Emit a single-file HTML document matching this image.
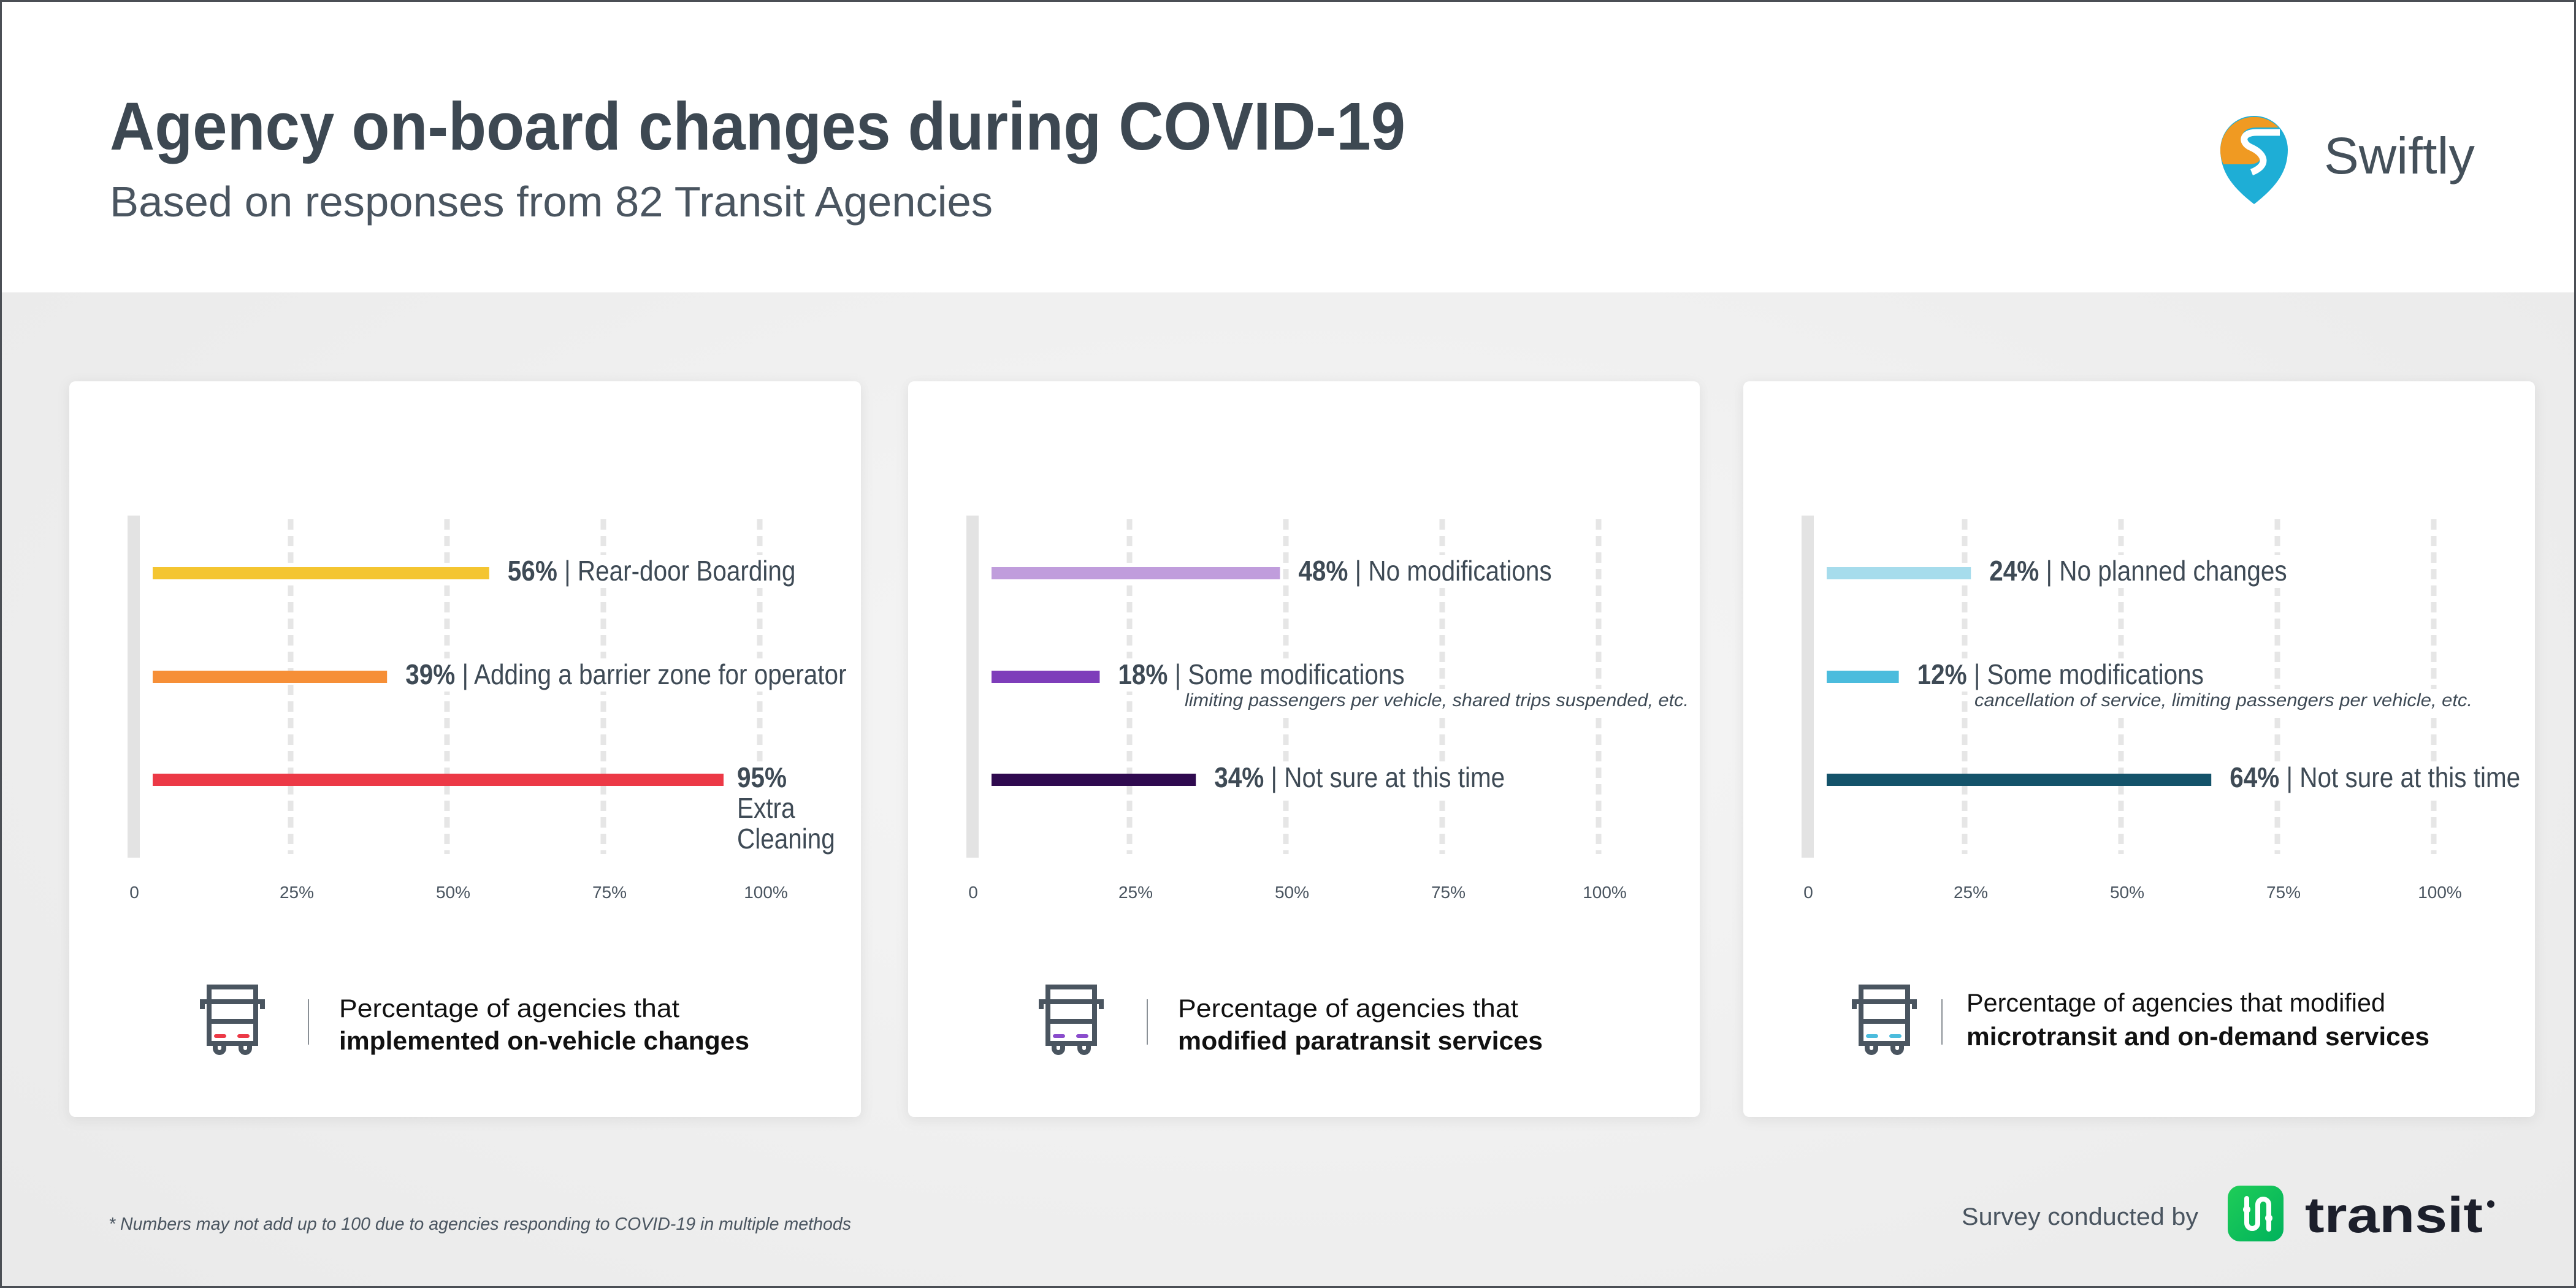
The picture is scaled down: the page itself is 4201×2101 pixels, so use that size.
<!DOCTYPE html>
<html><head><meta charset="utf-8">
<style>
html,body{margin:0;padding:0;background:#fff}
svg{display:block}
text{font-family:"Liberation Sans",sans-serif}
</style></head>
<body>
<svg id="root" width="4201" height="2101" viewBox="0 0 4201 2101" xmlns="http://www.w3.org/2000/svg">
<defs>
<radialGradient id="bgGrad" cx="50%" cy="55%" r="70%">
<stop offset="0" stop-color="#f6f6f6"/><stop offset="1" stop-color="#e9e9e9"/>
</radialGradient>
<filter id="shadow" x="-5%" y="-5%" width="110%" height="110%">
<feDropShadow dx="0" dy="4" stdDeviation="10" flood-color="#000" flood-opacity="0.08"/>
</filter>
<linearGradient id="tg" x1="0" y1="0" x2="1" y2="1"><stop offset="0" stop-color="#1fcd58"/><stop offset="1" stop-color="#00b25c"/></linearGradient>
</defs>
<rect x="0" y="0" width="4201" height="2101" fill="url(#bgGrad)"/>
<rect x="0" y="0" width="4201" height="477" fill="#ffffff"/>
<text x="179" y="244" font-size="110" font-weight="bold" fill="#3d4852" textLength="2113" lengthAdjust="spacingAndGlyphs">Agency on-board changes during COVID-19</text>
<text x="179" y="353" font-size="70" fill="#4a5560" textLength="1440" lengthAdjust="spacingAndGlyphs">Based on responses from 82 Transit Agencies</text>

<g>
<path d="M3676 333 C3640 305 3621 280 3621 244 A55 55 0 0 1 3731 244 C3731 280 3712 305 3676 333 Z" fill="#1eaed6"/>
<path d="M3621 244 A55 55 0 0 1 3716 208 L3680 208 C3650 208 3650 235 3668 243 C3690 252 3692 266 3670 268 L3626 268 C3622 260 3621 252 3621 244 Z" fill="#f09a22"/>
<path d="M3718 216 L3680 216 C3655 216 3655 233 3670 240 C3695 251 3700 270 3672 281" fill="none" stroke="#fff" stroke-width="11"/>
<text x="3790" y="283" font-size="84" fill="#44505a" textLength="246" lengthAdjust="spacingAndGlyphs">Swiftly</text>
</g>

<g id="panels"></g>

<text x="177" y="2006" font-size="29" font-style="italic" fill="#4a5560" textLength="1211" lengthAdjust="spacingAndGlyphs">*  Numbers may not add up to 100 due to agencies responding to COVID-19 in multiple methods</text>
<text x="3199" y="1998" font-size="40" fill="#4a5560" textLength="386" lengthAdjust="spacingAndGlyphs">Survey conducted by</text>
<g>
<rect x="3633" y="1934" width="91" height="91" rx="20" fill="url(#tg)"/>
<path d="M3664 1955 L3664 1995 A9 9 0 0 0 3682 1995 L3682 1965 A9 9 0 0 1 3700 1965 L3700 2005" fill="none" stroke="#fff" stroke-width="8" stroke-linecap="round"/>
<circle cx="3664" cy="1973" r="6" fill="#fff"/><circle cx="3700" cy="1987" r="6" fill="#fff"/>
<text x="3759" y="2010" font-size="82" font-weight="bold" fill="#1c1f2b" textLength="290" lengthAdjust="spacingAndGlyphs">transit</text>
<circle cx="4062" cy="1964" r="6" fill="#1c1f2b"/>
</g>
<rect x="1.5" y="1.5" width="4198" height="2098" fill="none" stroke="#4b4f55" stroke-width="3"/>
</svg>
<script>
const NS="http://www.w3.org/2000/svg";
// data
const p1Categories=["Rear-door Boarding","Adding a barrier zone for operator","Extra Cleaning"];
const p1Values=[56,39,95];
const p1Colors=["#f4c531","#f68f37","#ec3946"];
const p2Categories=["No modifications","Some modifications","Not sure at this time"];
const p2Values=[48,18,34];
const p2Colors=["#c09ddc","#7e3dba","#2f0a4f"];
const p3Categories=["No planned changes","Some modifications","Not sure at this time"];
const p3Values=[24,12,64];
const p3Colors=["#a6dcec","#4bbcdd","#14536a"];
const tickValues=[0,25,50,75,100];
const tickLabels=["0","25%","50%","75%","100%"];
const p2Note="limiting passengers per vehicle, shared trips suspended, etc.";
const p3Note="cancellation of service, limiting passengers per vehicle, etc.";

const panels=[
 {x:113,cats:p1Categories,vals:p1Values,cols:p1Colors,note:null,l1:"Percentage of agencies that",l2:"implemented on-vehicle changes",icon:215,div:390,tx:440,b1:1659,b2:1712,w1:555,w2:669,dash:"#ec3946",name:"on-vehicle-changes"},
 {x:1481,cats:p2Categories,vals:p2Values,cols:p2Colors,note:p2Note,noteX:451,noteW:822,l1:"Percentage of agencies that",l2:"modified paratransit services",icon:215,div:390,tx:440,b1:1659,b2:1712,w1:555,w2:595,dash:"#8a4ccc",name:"paratransit"},
 {x:2843,cats:p3Categories,vals:p3Values,cols:p3Colors,note:p3Note,noteX:377,noteW:812,l1:"Percentage of agencies that modified",l2:"microtransit and on-demand services",icon:179,div:324,tx:364,b1:1650,b2:1705,w1:683,w2:755,dash:"#4bbcdd",name:"microtransit"}
];
const rowY=[935,1104,1272];
const barStart=136, pxPer=9.8;
const gridX=v=>106+v*10.2;
const xScale=v=>barStart+v*pxPer;

function el(tag,attrs,parent){const e=document.createElementNS(NS,tag);for(const k in attrs)e.setAttribute(k,attrs[k]);parent.appendChild(e);return e;}
const root=document.getElementById('panels');

panels.forEach((p,pi)=>{
 const g=el('g',{transform:`translate(${p.x},0)`},root);
 
 
 const card=el('rect',{x:0,y:622,width:1291,height:1200,rx:10,fill:'#fff',filter:'url(#shadow)'},g);
 
 
 tickValues.slice(1).forEach((t,i)=>{
  const ln=el('line',{x1:gridX(t),x2:gridX(t),y1:847,y2:1393,stroke:'#e6e6e6','stroke-width':9,'stroke-dasharray':'17 10'},g);
  
  
 });
 const ax=el('rect',{x:95,y:841,width:20,height:558,fill:'#e3e3e3'},g);
 
 
 tickValues.forEach((t,i)=>{
  const tx=el('text',{x:t===0?106:gridX(t)+10,y:1465,'font-size':28,fill:'#4a5560','text-anchor':'middle'},g);
  tx.textContent=tickLabels[i];
  
  
 });
 const bgLayer=el('g',{},g);
 const barLayer=el('g',{},g);
 const labelLayer=el('g',{},g);
 p.vals.forEach((v,i)=>{
  const y=rowY[i];
  const b=el('rect',{x:barStart,y:y-10,width:xScale(v)-barStart,height:20,fill:p.cols[i]},barLayer);
  
  
  const lx=xScale(v)+(v>90?22:30);
  const multi = v>90;
  const lines = multi ? [[v+'%',''],['',p.cats[i].split(' ')[0]],['',p.cats[i].split(' ').slice(1).join(' ')]] : [[v+'%',' | '+p.cats[i]]];
  lines.forEach((ln,li)=>{
   const t=el('text',{x:lx,y:y+12+li*50,'font-size':46,fill:'#3e4a55'},labelLayer);
   
   
   if(ln[0]){const s=el('tspan',{'font-weight':'bold'},t);s.textContent=ln[0];}
   if(ln[1]){const s=el('tspan',{},t);s.textContent=ln[1];}
   const w=t.getComputedTextLength()*0.88;
   t.setAttribute('textLength',w);t.setAttribute('lengthAdjust','spacingAndGlyphs');
   el('rect',{x:lx-8,y:y+12+li*50-42,width:w+16,height:54,fill:'#fff'},bgLayer);
  });
  if(i===1 && p.note){
   const nt=el('text',{x:p.noteX,y:1152,'font-size':30,'font-style':'italic',fill:'#3e4a55',textLength:p.noteW,lengthAdjust:'spacingAndGlyphs'},labelLayer);
   nt.textContent=p.note;
   
   
   el('rect',{x:p.noteX-6,y:1124,width:p.noteW+12,height:38,fill:'#fff'},bgLayer);
  }
 });
 const ic=el('g',{transform:`translate(${p.icon},1606)`,fill:'none',stroke:'#4a5560','stroke-width':8},g);
 
 
 el('rect',{x:13,y:4,width:76,height:92},ic);
 el('path',{d:'M2 40 V28 H100 V40'},ic);
 el('line',{x1:13,y1:60,x2:89,y2:60},ic);
 el('path',{d:'M23 96 V104 A7 7 0 0 0 37 104 V96 M65 96 V104 A7 7 0 0 0 79 104 V96'},ic);
 el('path',{d:'M24 84 H38 M62 84 H76',stroke:p.dash,'stroke-width':6,'stroke-linecap':'round'},ic);
 const dv=el('line',{x1:p.div,x2:p.div,y1:1630,y2:1704,stroke:'#8a9096','stroke-width':2},g);
 
 
 const t1=el('text',{x:p.tx,y:p.b1,'font-size':42,fill:'#111',textLength:p.w1,lengthAdjust:'spacingAndGlyphs'},g);
 t1.textContent=p.l1;
 
 
 const t2=el('text',{x:p.tx,y:p.b2,'font-size':42,'font-weight':'bold',fill:'#111',textLength:p.w2,lengthAdjust:'spacingAndGlyphs'},g);
 t2.textContent=p.l2;
 
 
});
</script>
</body></html>
